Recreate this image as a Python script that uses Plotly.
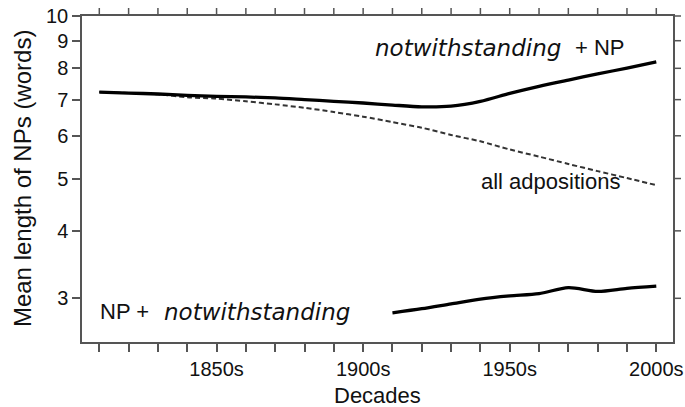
import plotly.graph_objects as go
import math

# ---- data ----
decades = [1810, 1820, 1830, 1840, 1850, 1860, 1870, 1880, 1890, 1900,
           1910, 1920, 1930, 1940, 1950, 1960, 1970, 1980, 1990, 2000]
notw_np = [7.23, 7.20, 7.17, 7.13, 7.10, 7.08, 7.05, 7.00, 6.95, 6.90,
           6.84, 6.79, 6.81, 6.95, 7.19, 7.41, 7.61, 7.81, 8.01, 8.22]
all_adpos = [7.23, 7.20, 7.16, 7.07, 7.03, 6.95, 6.86, 6.76, 6.64, 6.51,
             6.36, 6.21, 6.02, 5.86, 5.66, 5.49, 5.32, 5.16, 5.01, 4.86]
decades_late = [1910, 1920, 1930, 1940, 1950, 1960, 1970, 1980, 1990, 2000]
np_notw = [2.82, 2.87, 2.93, 2.99, 3.03, 3.06, 3.14, 3.09, 3.13, 3.16]

x_tick_vals = decades
x_tick_labels = ["1850s" if d == 1850 else "1900s" if d == 1900 else
                 "1950s" if d == 1950 else "2000s" if d == 2000 else ""
                 for d in decades]
y_tick_vals = [3, 4, 5, 6, 7, 8, 9, 10]
y_tick_labels = ["3", "4", "5", "6", "7", "8", "9", "10"]

FONT = "Liberation Sans, Arial, sans-serif"
IFONT = "DejaVu Sans"
AXC = "#555555"
TXT = "#111111"
X_RANGE = [1804.1, 2005.7]
Y_RANGE = [math.log10(2.49), 1.0]

fig = go.Figure()
fig.add_trace(go.Scatter(x=decades, y=all_adpos, mode="lines",
                         line=dict(color="#333333", width=2, dash="5px,3px",
                                   shape="spline", smoothing=0.8)))
fig.add_trace(go.Scatter(x=decades, y=notw_np, mode="lines",
                         line=dict(color="black", width=3.3,
                                   shape="spline", smoothing=0.8)))
fig.add_trace(go.Scatter(x=decades_late, y=np_notw, mode="lines",
                         line=dict(color="black", width=3.3,
                                   shape="spline", smoothing=0.8)))

reg = dict(family=FONT, size=22, color=TXT)
ita = dict(family=IFONT, size=23, color=TXT, style="italic")
y_up = math.log10(8.74)
y_lo = math.log10(2.83)
fig.add_annotation(x=1903.5, y=y_up, text="notwithstanding", showarrow=False,
                   xanchor="left", font=ita)
fig.add_annotation(x=1989.9, y=y_up, text="+ NP", showarrow=False,
                   xanchor="right", font=reg)
fig.add_annotation(x=1809.6, y=y_lo, text="NP +", showarrow=False,
                   xanchor="left", font=reg)
fig.add_annotation(x=1831.5, y=y_lo, text="notwithstanding", showarrow=False,
                   xanchor="left", font=ita)
fig.add_annotation(x=1939.5, y=math.log10(4.93), text="all adpositions",
                   showarrow=False, xanchor="left", font=reg)
# axis titles
fig.add_annotation(x=0.5, y=-0.165, xref="paper", yref="paper",
                   text="Decades", showarrow=False, xanchor="center", yanchor="middle",
                   font=reg)
fig.add_annotation(x=-0.1014, y=0.5, xref="paper", yref="paper",
                   text="Mean length of NPs (words)", showarrow=False, textangle=-90,
                   xanchor="center", yanchor="middle",
                   font=dict(family=FONT, size=24, color=TXT))

# mirrored tick marks on the top and right frame edges (from the tick arrays)
for d in x_tick_vals:
    fig.add_shape(type="line", xref="x", yref="y domain", x0=d, x1=d,
                  ysizemode="pixel", yanchor=1, y0=0, y1=8,
                  line=dict(color=AXC, width=1.5))
for v in y_tick_vals:
    frac = (math.log10(v) - Y_RANGE[0]) / (Y_RANGE[1] - Y_RANGE[0])
    fig.add_shape(type="line", xref="x domain", yref="y domain", y0=frac, y1=frac,
                  xsizemode="pixel", xanchor=1, x0=0, x1=8,
                  line=dict(color=AXC, width=1.5))

fig.update_layout(
    width=685, height=407,
    margin=dict(l=82, r=12, t=16, b=65),
    plot_bgcolor="white",
    showlegend=False, hovermode=False,
    xaxis=dict(range=X_RANGE, tickvals=x_tick_vals, ticktext=x_tick_labels,
               ticks="outside", ticklen=8, tickwidth=1.5, tickcolor=AXC,
               showline=True, linecolor=AXC, linewidth=1.5, mirror=True,
               showgrid=False, zeroline=False, automargin=False,
               tickfont=dict(family=FONT, size=20, color=TXT)),
    yaxis=dict(type="log", range=Y_RANGE, tickvals=y_tick_vals, ticktext=y_tick_labels,
               ticks="outside", ticklen=8, tickwidth=1.5, tickcolor=AXC,
               showline=True, linecolor=AXC, linewidth=1.5, mirror=True,
               showgrid=False, zeroline=False, automargin=False,
               tickfont=dict(family=FONT, size=20, color=TXT)),
)

fig.write_html("out.html")
